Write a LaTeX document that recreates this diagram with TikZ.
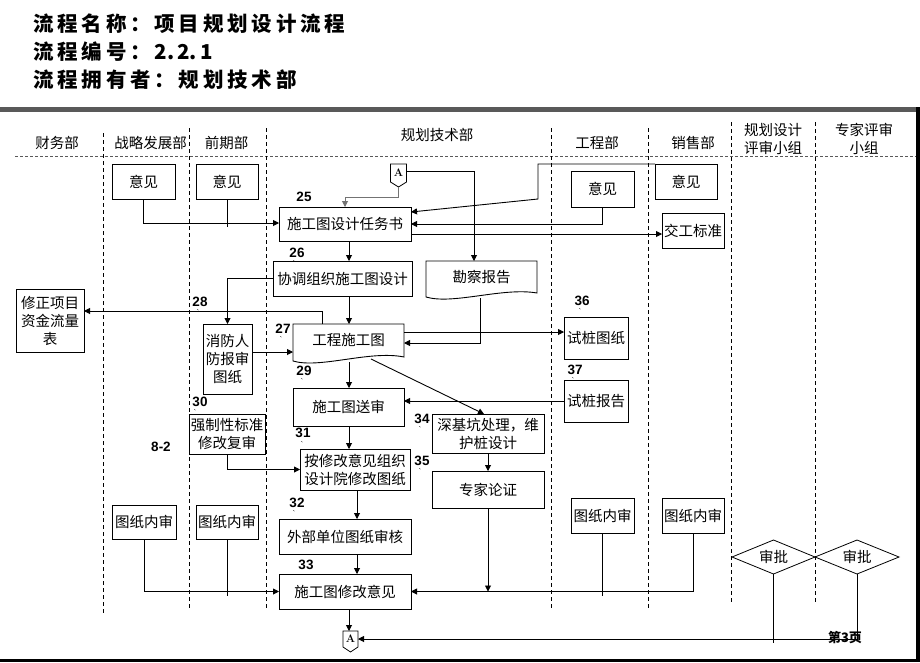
\documentclass[tikz,border=0pt]{standalone}
\usepackage{fontspec}
\newfontfamily\cjk{Noto Sans CJK SC}
\newfontfamily\numf{Liberation Sans}
\usetikzlibrary{arrows.meta}
\newcommand\trk[1]{\trkA#1\relax}
\def\trkA#1{\ifx\relax#1\else#1\hskip3.8pt\expandafter\trkA\fi}
\begin{document}
\begin{tikzpicture}[x=1pt,y=-1pt,
  box/.style={draw, line width=0.9pt, inner sep=0pt, outer sep=0pt, align=center, font=\cjk\fontsize{14.5}{18}\selectfont},
  wh/.style 2 args={minimum width=#1, minimum height=#2},
  conn/.style={line width=0.9pt},
  arr/.style={-{Triangle[length=6pt,width=6pt]}},
  num/.style={font=\numf\bfseries\fontsize{13.5}{13.5}\selectfont, inner sep=0pt},
  tk/.style={font=\numf\fontsize{8}{8}\selectfont, inner sep=0pt},
  hd/.style={font=\cjk\fontsize{14.5}{18}\selectfont, align=center, inner sep=0pt},
  ttl/.style={font=\cjk\bfseries\fontsize{20.5}{20.5}\selectfont, inner sep=0pt, anchor=west},
  anode/.style={inner sep=0pt, outer sep=0pt, font=\bfseries\fontsize{11}{11}\selectfont},
  vdash/.style={line width=0.8pt, dash pattern=on 4pt off 3pt},
  hdash/.style={line width=0.8pt, draw=black!65, dash pattern=on 3pt off 2pt}
]
\useasboundingbox (0,0) rectangle (920,662);
\fill[white] (0,0) rectangle (920,662);
% title
\node[ttl] (t1) at (33,24) {\trk{流程名称：项目规划设计流程}};
\node[ttl] (t2) at (33,52) {\trk{流程编号：}2.\hskip3pt2.\hskip3pt1};
\node[ttl] (t3) at (33,80) {\trk{流程拥有者：规划技术部}};
\fill[black!65] (0,107) rectangle (916,112);
\fill[black] (916,107) rectangle (920,662);
\fill[black] (0,659) rectangle (920,662);
% lanes
\draw[hdash] (15,156) -- (916,156);
\foreach \x/\a/\b in {103/133/613, 189/128/608, 266/128/608, 551/128/608, 648/128/608, 731/122/602, 815/122/602}
  \draw[vdash] (\x,\a) -- (\x,\b);
\node[hd] (h1) at (57,143) {财务部};
\node[hd] (h2) at (150.5,143) {战略发展部};
\node[hd] (h3) at (226.5,143) {前期部};
\node[hd] (h4) at (437,135) {规划技术部};
\node[hd] (h5) at (597,143) {工程部};
\node[hd] (h6) at (693,143) {销售部};
\node[hd] (h7) at (773,139) {规划设计\\评审小组};
\node[hd] (h8) at (864,139) {专家评审\\小组};
% boxes
\node[box, wh={63}{35}] (yj1) at (143.5,181.5) {意见};
\node[box, wh={62}{35}] (yj2) at (227,181.5) {意见};
\node[box, wh={63}{36}] (yj3) at (602.5,189) {意见};
\node[box, wh={62}{35}] (yj4) at (686,181.5) {意见};
\node[box, wh={132}{34}] (rws) at (345,224) {施工图设计任务书};
\node[box, wh={62}{35}] (jgbz) at (693,230.5) {交工标准};
\node[box, wh={139}{35}] (xt) at (342.5,278.5) {协调组织施工图设计};
\node[box, draw=none, wh={111}{32}] (kc) at (481.5,277) {勘察报告};
\draw[line width=0.9pt] (kc.north west) -- (kc.north east) -- (kc.south east) .. controls ([xshift=-34pt,yshift=6pt]kc.south east) and ([xshift=27pt,yshift=-12pt]kc.south west) .. ([yshift=-4pt]kc.south west) -- cycle;
\node[box, wh={68}{63}] (xz) at (50,320.5) {修正项目\\资金流量\\表};
\node[box, wh={49}{70}] (xf) at (227.5,359) {消防人\\防报审\\图纸};
\node[box, draw=none, wh={111}{32}] (gc) at (348.5,340) {工程施工图};
\draw[line width=0.9pt] (gc.north west) -- (gc.north east) -- ([yshift=-1pt]gc.south east) .. controls ([xshift=-34pt,yshift=6pt]gc.south east) and ([xshift=27pt,yshift=-13pt]gc.south west) .. ([yshift=-5pt]gc.south west) -- cycle;
\node[box, wh={111}{38}] (ss) at (348.5,407) {施工图送审};
\node[box, wh={76}{40}] (qz) at (227,434) {强制性标准\\修改复审};
\node[box, wh={110}{41}] (axg) at (355,469.5) {按修改意见组织\\设计院修改图纸};
\node[box, wh={112}{39}] (sjk) at (488,433.5) {深基坑处理，维\\护桩设计};
\node[box, wh={112}{37}] (zj) at (488,489.5) {专家论证};
\node[box, wh={132}{35}] (wb) at (345,536.5) {外部单位图纸审核};
\node[box, wh={132}{35}] (xgyj) at (345,591.5) {施工图修改意见};
\node[box, wh={64}{34}] (tz1) at (144,522) {图纸内审};
\node[box, wh={62}{34}] (tz2) at (227,522) {图纸内审};
\node[box, wh={63}{35}] (tz3) at (602.5,515.5) {图纸内审};
\node[box, wh={62}{35}] (tz4) at (693,515.5) {图纸内审};
\node[box, wh={64}{42}] (stz) at (596,338) {试桩图纸};
\node[box, wh={64}{42}] (stb) at (596,401) {试桩报告};
\node[box, draw=none, wh={83}{34}] (sp1) at (773.5,557) {审批};
\draw[line width=0.8pt] (sp1.west) -- (sp1.north) -- (sp1.east) -- (sp1.south) -- cycle;
\node[box, draw=none, wh={84}{34}] (sp2) at (857,557) {审批};
\draw[line width=0.8pt] (sp2.west) -- (sp2.north) -- (sp2.east) -- (sp2.south) -- cycle;
% off-page connectors
\node[anode, wh={16}{18}] (topA) at (398.5,173) {A};
\draw[line width=0.8pt] (topA.north west) -- (topA.north east) -- (topA.south east) -- ([yshift=-5pt]topA.south) -- (topA.south west) -- cycle;
\coordinate (topAtip) at ([yshift=-5pt]topA.south);
\node[anode, wh={15}{16}] (botA) at (350.5,639) {A};
\draw[line width=0.8pt] (botA.north west) -- (botA.north east) -- (botA.south east) -- ([yshift=-5pt]botA.south) -- (botA.south west) -- cycle;
% number labels
\node[num] (n25) at (304,197) {25};
\node[num] (n26) at (297,253) {26};
\node[num] (n28) at (200,302) {28};
\node[num] (n27) at (283,329) {27};
\node[num] (n29) at (304,371) {29};
\node[num] (n30) at (200,402) {30};
\node[num] (n31) at (303,433) {31};
\node[num] (n82) at (161,447) {8-2};
\node[num] (n34) at (422,419) {34};
\node[num] (n35) at (422,461) {35};
\node[num] (n32) at (297,503) {32};
\node[num] (n33) at (306,565) {33};
\node[num] (n36) at (582,301) {36};
\node[num] (n37) at (575,370) {37};
\foreach \p in {(294,264),(198,313),(281,340),(302,382),(195,413),(302,445),(420,430),(420,472),(294,514),(580,312),(573,381)}
  \node[tk] at \p {`};
% connectors
\coordinate (sp) at (349,0);
\coordinate (sq) at (357,0);
\draw[conn,arr,draw=black!55] (topAtip) -- ++(0,10) -| (rws.north);
\draw[conn,arr] ([yshift=2pt]topA.east) -| ([xshift=-7.5pt]kc.north);
\draw[conn,arr] (yj4.north west) -- (538,164) -- (538,199) -- ([yshift=12pt]rws.east);
\draw[conn,arr] (yj3.south) |- (rws.east);
\coordinate (r5) at ([yshift=-10pt]rws.east);
\draw[conn,arr] (r5) -- (r5 -| jgbz.west);
\draw[conn,arr] (yj1.south) |- ([yshift=1pt]rws.west);
\draw[conn] (yj2.south) -- ++(0,28);
\draw[conn,arr] (rws.south -| sp) -- (xt.north -| sp);
\draw[conn,arr] (xt.west) -| (xf.north);
\draw[conn,arr] (xt.south -| sp) -- (gc.north -| sp);
\draw[conn,arr] ([xshift=-26.5pt]gc.north) |- ([yshift=9.5pt]xz.east);
\coordinate (f1) at ([yshift=7pt]xf.east);
\draw[conn,arr] (f1) -- (f1 -| gc.west);
\coordinate (kcb) at ([xshift=-1.5pt,yshift=-5pt]kc.south);
\coordinate (g1) at ([yshift=-3pt]gc.east);
\draw[conn,arr] (kcb) |- (g1);
\coordinate (g2) at ([yshift=8pt]gc.east);
\draw[conn,arr] (g2) -- (g2 -| stz.west);
\coordinate (gcb) at ([yshift=-6pt]gc.south);
\draw[conn,arr] (gcb -| sp) -- (ss.north -| sp);
\draw[conn,arr] ([xshift=22.5pt,yshift=-3pt]gc.south) -- ([xshift=-4pt]sjk.north);
\draw[conn,arr] (stb.west) -- (stb.west -| ss.east);
\draw[conn,arr] (ss.south -| sp) -- (axg.north -| sp);
\draw[conn,arr] (qz.south) |- (axg.west);
\draw[conn,arr] (sjk.south) -- (zj.north);
\draw[conn,arr] (axg.south -| sq) -- (wb.north -| sq);
\draw[conn,arr] (wb.south -| sq) -- (xgyj.north -| sq);
\draw[conn,arr] (tz1.south) |- (xgyj.west);
\draw[conn] (tz2.south) -- ++(0,57);
\draw[conn,arr] (zj.south) -- (zj.south |- xgyj.east);
\draw[conn,arr] (tz4.south) |- (xgyj.east);
\draw[conn] (tz3.south) -- ++(0,63);
\draw[conn,arr] (xgyj.south -| sp) -- (botA.north -| sp);
\draw[conn] (sp1.south) -- ++(0,69);
\draw[conn,arr] (sp2.south) |- (botA.east);
\node[font=\cjk\bfseries\fontsize{13}{13}\selectfont, inner sep=0pt] (pg) at (845,637) {第3页};
\end{tikzpicture}
\end{document}
